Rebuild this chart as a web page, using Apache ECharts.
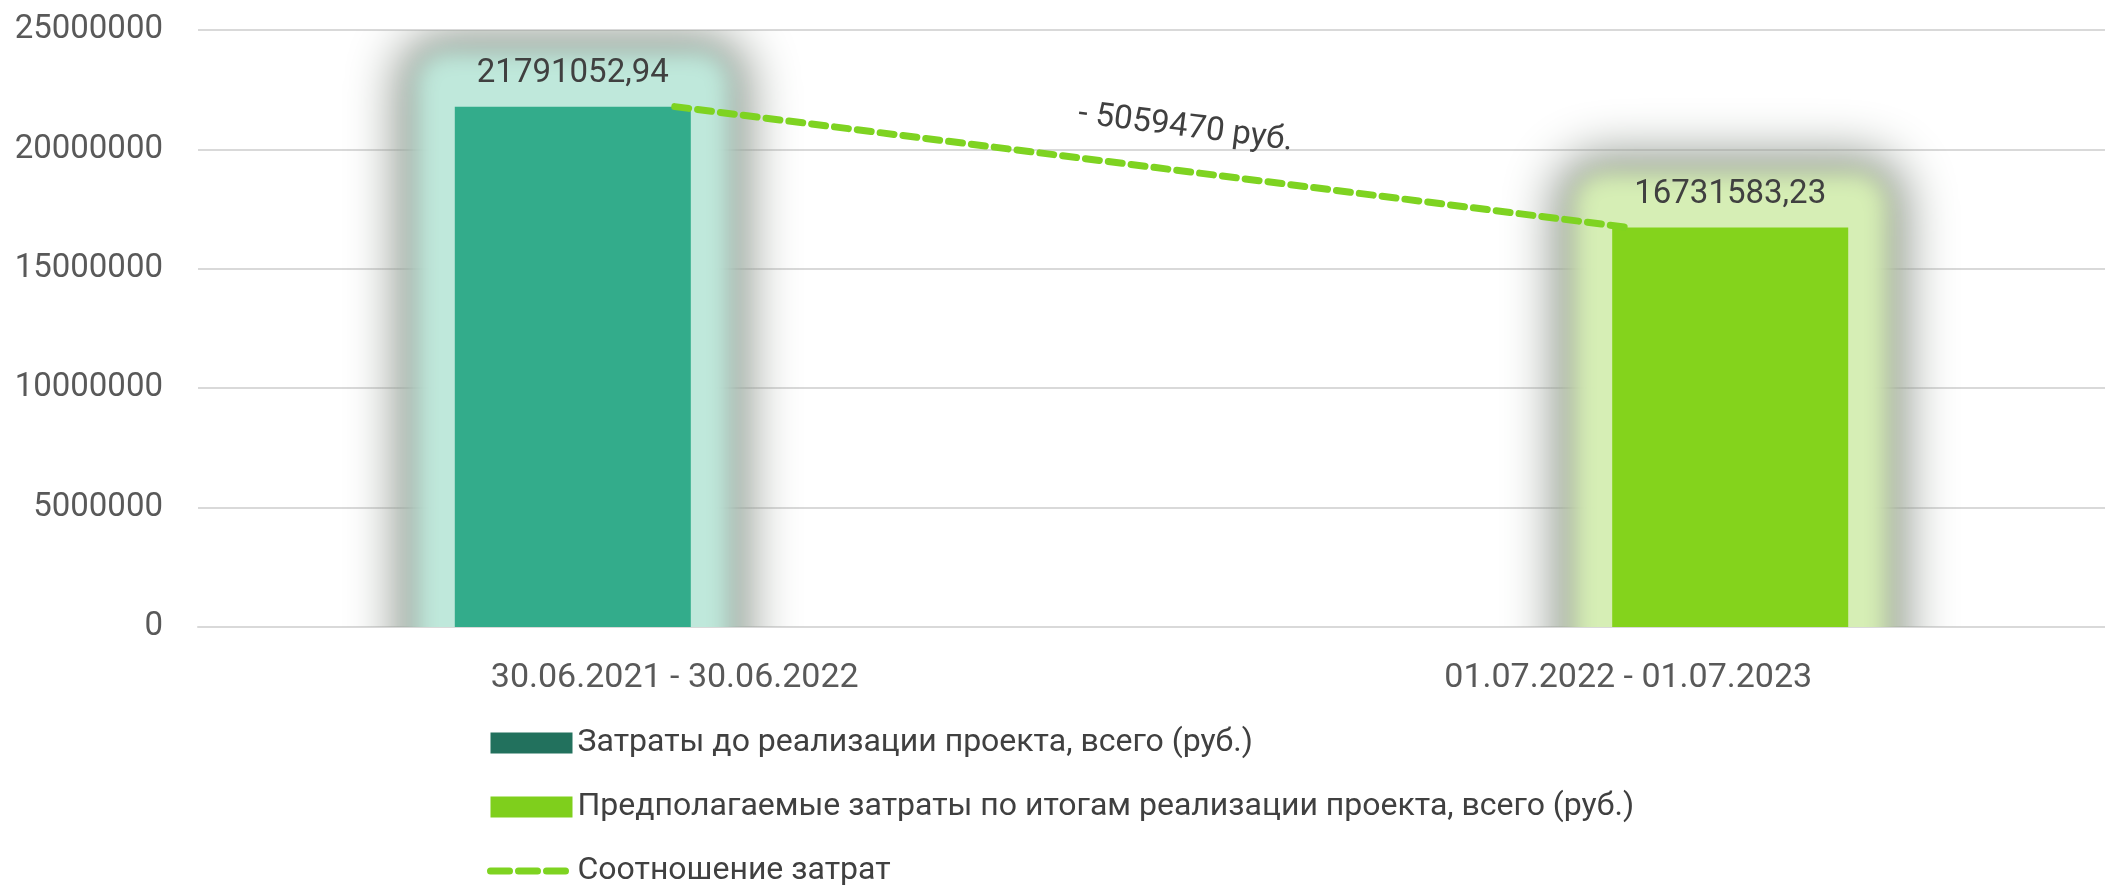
<!DOCTYPE html>
<html>
<head>
<meta charset="utf-8">
<script src="https://cdn.jsdelivr.net/npm/echarts@6/dist/echarts.min.js"></script>
<style>
  html, body { margin: 0; padding: 0; background: #fff; }
  #chart { width: 2105px; height: 887px; }
</style>
</head>
<body>
<div id="chart"></div>
<script>
// данные
const categories = ['30.06.2021 - 30.06.2022', '01.07.2022 - 01.07.2023'];
const costBefore = [21791052.94, '-'];
const costAfter = ['-', 16731583.23];
const costTrend = [21791052.94, 16731583.23];
const yMin = 0;
const yMax = 25000000;
const yStep = 5000000;
const nameBefore = 'Затраты до реализации проекта, всего (руб.)';
const nameAfter = 'Предполагаемые затраты по итогам реализации проекта, всего (руб.)';
const nameTrend = 'Соотношение затрат';

const font = 'Roboto';
const barW = 236;
const barGap = -13.6; // %
const slotOffset = barW * (1 + barGap / 100) / 2;
const SHIFT = 4000; // рисуем только тень, сам прямоугольник за пределами холста

const chart = echarts.init(document.getElementById('chart'));

const fmt = v => Number(v).toFixed(2).replace('.', ',');

// свечение вокруг столбца: серый ореол + светлая полоса (размытые тени)
const glow = (values, side, color) => ({
  type: 'custom',
  name: 'glow',
  silent: true,
  clip: true,
  z: 1,
  data: values.map((v, i) => [i, v]).filter(d => d[1] !== '-'),
  renderItem: (params, api) => {
    const top = api.coord([api.value(0), api.value(1)]);
    const base = api.coord([api.value(0), 0]);
    const cx = top[0] + side * slotOffset;
    const layer = (sx, sy, r, fill, blur) => ({
      type: 'rect',
      shape: {
        x: cx - barW / 2 - sx - SHIFT,
        y: top[1] - sy,
        width: barW + 2 * sx,
        height: base[1] - top[1] + sy + 120,
        r: r
      },
      style: { fill: fill, shadowBlur: blur, shadowColor: fill, shadowOffsetX: SHIFT }
    });
    return {
      type: 'group',
      children: [
        layer(58, 74, 50, '#8E968D', 50),
        layer(40, 56, 34, color, 22)
      ]
    };
  }
});

const barLabel = {
  show: true,
  position: 'top',
  distance: 16,
  formatter: p => fmt(p.value),
  fontFamily: font,
  fontSize: 33,
  color: '#404040'
};

const option = {
  backgroundColor: '#fff',
  animation: false,
  grid: { left: 198, right: -13, top: 30, bottom: 260 },
  xAxis: {
    type: 'category',
    data: categories,
    axisLine: { show: true, lineStyle: { color: '#D9D9D9', width: 2 } },
    axisTick: { show: false },
    axisLabel: { fontFamily: font, fontSize: 34, color: '#595959', margin: 34 }
  },
  yAxis: {
    type: 'value',
    min: yMin,
    max: yMax,
    interval: yStep,
    axisLine: { show: false },
    axisTick: { show: false },
    splitLine: { lineStyle: { color: '#D9D9D9', width: 2 } },
    axisLabel: {
      fontFamily: font,
      fontSize: 33,
      color: '#595959',
      margin: 35,
      formatter: v => String(v)
    }
  },
  legend: {
    orient: 'vertical',
    left: 487,
    top: 726,
    height: 200,
    padding: 0,
    itemWidth: 82,
    itemHeight: 21,
    itemGap: 30,
    textStyle: { fontFamily: font, fontSize: 32, color: '#404040', lineHeight: 34 },
    data: [
      { name: nameBefore, icon: 'rect', itemStyle: { color: '#22715D' } },
      { name: nameAfter, icon: 'rect', itemStyle: { color: '#7FCF1C' } },
      {
        name: nameTrend,
        itemStyle: { color: 'rgba(0,0,0,0)', borderWidth: 0 },
        lineStyle: { color: '#7ED321', width: 7, type: [19, 9], cap: 'round' }
      }
    ]
  },
  series: [
    glow(costBefore, -1, '#BFE8DB'),
    glow(costAfter, 1, '#D6EEB5'),
    {
      type: 'bar',
      name: nameBefore,
      data: costBefore,
      barWidth: barW,
      barGap: barGap + '%',
      z: 2,
      itemStyle: { color: '#33AC8B' },
      label: barLabel
    },
    {
      type: 'bar',
      name: nameAfter,
      data: costAfter,
      barWidth: barW,
      barGap: barGap + '%',
      z: 2,
      itemStyle: { color: '#84D31C' },
      label: barLabel
    },
    {
      type: 'line',
      name: nameTrend,
      data: costTrend,
      symbol: 'none',
      z: 5,
      lineStyle: { color: '#7ED321', width: 7, type: [14, 9], cap: 'round' },
      itemStyle: { color: '#7ED321' }
    }
  ]
};

chart.setOption(option);

// подпись разницы вдоль линии
const p1 = chart.convertToPixel({ xAxisIndex: 0, yAxisIndex: 0 }, [0, costTrend[0]]);
const p2 = chart.convertToPixel({ xAxisIndex: 0, yAxisIndex: 0 }, [1, costTrend[1]]);
const angle = Math.atan2(p2[1] - p1[1], p2[0] - p1[0]);
const t = 0.53;
const off = 43;
const cx = p1[0] + (p2[0] - p1[0]) * t + Math.sin(angle) * off;
const cy = p1[1] + (p2[1] - p1[1]) * t - Math.cos(angle) * off;
const diff = Math.round(costTrend[0] - costTrend[1]);

chart.setOption({
  graphic: [{
    type: 'text',
    x: cx,
    y: cy,
    rotation: -angle,
    z: 10,
    style: {
      text: '- ' + diff + ' руб.',
      fontFamily: font,
      fontSize: 33,
      fill: '#404040',
      align: 'center',
      verticalAlign: 'middle'
    }
  }]
});
</script>
</body>
</html>
